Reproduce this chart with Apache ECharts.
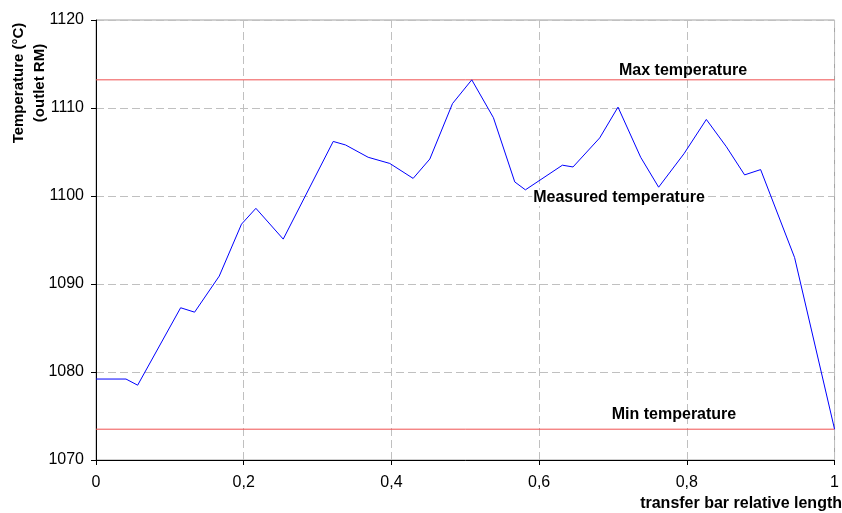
<!DOCTYPE html>
<html>
<head>
<meta charset="utf-8">
<script src="https://cdn.jsdelivr.net/npm/echarts@6/dist/echarts.min.js"></script>
<style>
html,body{margin:0;padding:0;background:#fff;}
#chart{width:842px;height:513px;}
</style>
</head>
<body>
<div id="chart"></div>
<script>
var lengthPos = [0, 0.0406, 0.0564, 0.1146, 0.1335, 0.1669, 0.197, 0.2165, 0.2535, 0.3212, 0.3379, 0.3685, 0.3978, 0.4294, 0.452, 0.4827, 0.5088, 0.5381, 0.567, 0.5814, 0.6315, 0.6459, 0.682, 0.7068, 0.7375, 0.7618, 0.7961, 0.8264, 0.8535, 0.8782, 0.8999, 0.9459, 1.0];
var measuredTemp = [1079.2, 1079.2, 1078.5, 1087.3, 1086.8, 1090.9, 1096.8, 1098.6, 1095.1, 1106.2, 1105.8, 1104.4, 1103.7, 1102.0, 1104.2, 1110.5, 1113.2, 1108.9, 1101.6, 1100.7, 1103.5, 1103.3, 1106.6, 1110.1, 1104.4, 1101.0, 1104.8, 1108.7, 1105.6, 1102.4, 1103.0, 1093.0, 1073.5];
var maxTemp = 1113.2;
var minTemp = 1073.5;
var xRange = [0, 1];
var yTicks = [1070, 1080, 1090, 1100, 1110, 1120];

var FONT = '"Liberation Sans", Arial, sans-serif';

var chart = echarts.init(document.getElementById('chart'), null, {renderer: 'canvas'});
var measured = lengthPos.map(function (x, i) { return [x, measuredTemp[i]]; });

chart.setOption({
  animation: false,
  backgroundColor: '#ffffff',
  grid: {left: 96, right: 7, top: 20, bottom: 53, show: true, borderColor: '#a0a0a0', borderWidth: 1, backgroundColor: 'transparent'},
  xAxis: {
    type: 'value', min: xRange[0], max: xRange[1], interval: 0.2,
    axisLine: {show: true, onZero: false, lineStyle: {color: '#000', width: 1}},
    axisTick: {show: true, length: 5, inside: false, lineStyle: {color: '#000'}},
    axisLabel: {margin: 15, color: '#000', fontSize: 16, fontFamily: FONT,
      formatter: function (v) { return String(Math.round(v * 10) / 10).replace('.', ','); }},
    splitLine: {show: true, lineStyle: {color: '#c0c0c0', type: [8, 4], width: 1}}
  },
  yAxis: {
    type: 'value', min: yTicks[0], max: yTicks[yTicks.length - 1], interval: 10,
    axisLine: {show: true, onZero: false, lineStyle: {color: '#000', width: 1}},
    axisTick: {show: true, length: 5, inside: false, lineStyle: {color: '#000'}},
    axisLabel: {margin: 12, color: '#000', fontSize: 16, fontFamily: FONT,
      formatter: function (v) { return String(v); }},
    splitLine: {show: true, lineStyle: {color: '#c0c0c0', type: [8, 4], width: 1}}
  },
  series: [
    {type: 'line', name: 'Max temperature', data: [[xRange[0], maxTemp], [xRange[1], maxTemp]],
      showSymbol: false, symbol: 'none', lineStyle: {color: '#f05050', width: 1}, silent: true, z: 2},
    {type: 'line', name: 'Min temperature', data: [[xRange[0], minTemp], [xRange[1], minTemp]],
      showSymbol: false, symbol: 'none', lineStyle: {color: '#f05050', width: 1}, silent: true, z: 2},
    {type: 'line', name: 'Measured temperature', data: measured,
      showSymbol: false, symbol: 'none', lineStyle: {color: '#0000ff', width: 1}, silent: true, z: 3}
  ],
  graphic: [
    {type: 'text', x: 683, y: 71, z: 10, style: {text: 'Max temperature', font: 'bold 16px ' + FONT, fill: '#000', textAlign: 'center', textVerticalAlign: 'middle'}},
    {type: 'text', x: 674, y: 415, z: 10, style: {text: 'Min temperature', font: 'bold 16px ' + FONT, fill: '#000', textAlign: 'center', textVerticalAlign: 'middle'}},
    {type: 'text', x: 619, y: 198, z: 10, style: {text: 'Measured temperature', font: 'bold 16px ' + FONT, fill: '#000', textAlign: 'center', textVerticalAlign: 'middle', backgroundColor: '#fff', padding: [0, 1]}},
    {type: 'text', x: 842, y: 504, z: 10, style: {text: 'transfer bar relative length', font: 'bold 16px ' + FONT, fill: '#000', textAlign: 'right', textVerticalAlign: 'middle'}},
    {type: 'text', x: 19, y: 83, z: 10, rotation: Math.PI / 2, style: {text: 'Temperature (°C)', font: 'bold 15px ' + FONT, fill: '#000', textAlign: 'center', textVerticalAlign: 'middle'}},
    {type: 'text', x: 40, y: 83, z: 10, rotation: Math.PI / 2, style: {text: '(outlet RM)', font: 'bold 15px ' + FONT, fill: '#000', textAlign: 'center', textVerticalAlign: 'middle'}}
  ]
});
</script>
</body>
</html>
